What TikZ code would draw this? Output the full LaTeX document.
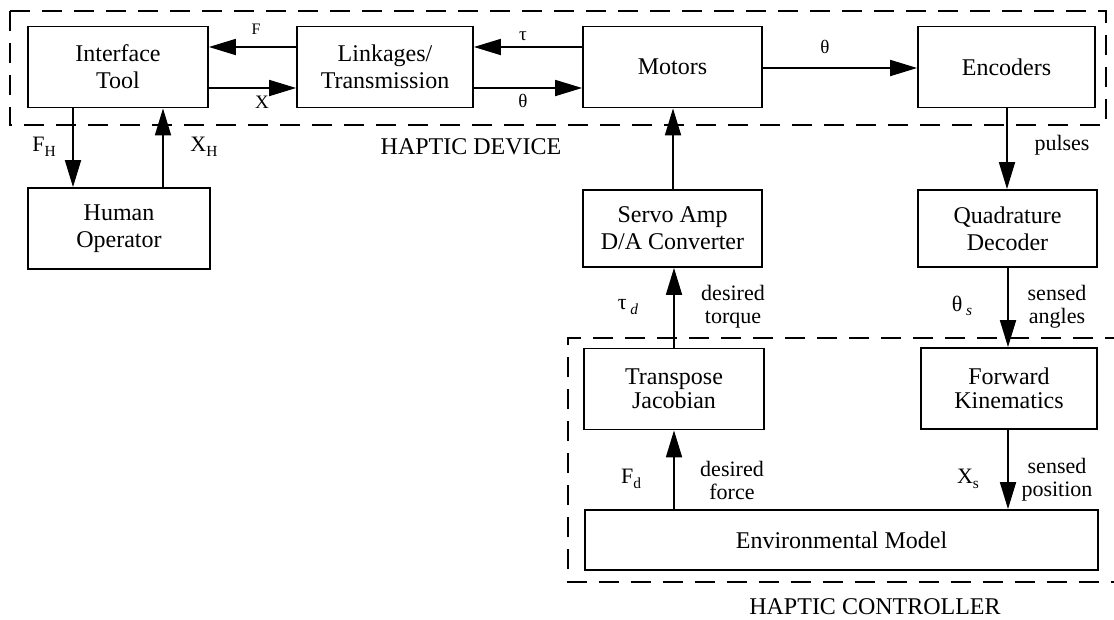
\documentclass[tikz,border=0pt]{standalone}
\usepackage{fontspec}
\setmainfont{Liberation Serif}
\usetikzlibrary{arrows.meta}
% lowered, reduced subscript for text-mode symbols
\newcommand\lowsub[1]{\raisebox{-0.45ex}{\scalebox{0.7}{#1}}}
\begin{document}
\begin{tikzpicture}[x=1pt,y=-1pt,
  blk/.style={draw,line width=1.8pt,minimum width=179pt,minimum height=81pt,
    align=center,inner sep=0pt,font=\fontsize{24}{27}\selectfont},
  arr/.style={line width=1.8pt,-{Triangle[length=27pt,width=16pt]}},
  frame/.style={line width=1.8pt,dash pattern=on 20pt off 12pt},
  sym/.style={inner sep=0pt,font=\fontsize{19}{20}\selectfont},
  sig/.style={inner sep=0pt,font=\fontsize{22}{24}\selectfont},
  lbl/.style={inner sep=0pt,align=center,font=\fontsize{22}{23}\selectfont},
  title/.style={inner sep=0pt,font=\fontsize{24}{26}\selectfont},
  ]
\useasboundingbox (0,0) rectangle (1114,619);

% group frames
\draw[frame] (10,11) rectangle (1106,125);
\draw[frame] (1125,338) -- (568,338) -- (568,582) -- (1125,582);
\node[title] (devlbl) at (471,147) {HAPTIC DEVICE};
\node[title] (ctllbl) at (875,607) {HAPTIC CONTROLLER};

% blocks
\node[blk,minimum width=180pt] (iface) at (118,67) {Interface\\Tool};
\node[blk,minimum width=176pt] (link) at (385,67) {Linkages/\\Transmission};
\node[blk] (motors) at (672.5,67) {Motors};
\node[blk,minimum width=177pt] (enc) at (1006.5,67) {Encoders};
\node[blk,minimum width=182pt] (human) at (119,228.5) {Human\\Operator};
\node[blk,minimum height=77pt] (servo) at (672.5,228.5) {Servo Amp\\D/A Converter};
\node[blk,minimum height=77pt] (quad) at (1007.5,228.5) {Quadrature\\Decoder};
\node[blk,minimum width=180pt,font=\fontsize{24}{24}\selectfont] (trans) at (674,389) {Transpose\\Jacobian};
\node[blk,minimum width=176pt,font=\fontsize{24}{24}\selectfont] (fwd) at (1009,388.5) {Forward\\Kinematics};
\node[blk,minimum width=513pt,minimum height=60pt] (env) at (841.5,540) {Environmental Model};

% haptic device signals
\draw[arr] (link.west |- 0,47) -- (iface.east |- 0,47);
\draw[arr] (iface.east |- 0,88) -- (link.west |- 0,88);
\draw[arr] (motors.west |- 0,47) -- (link.east |- 0,47);
\draw[arr] (link.east |- 0,88) -- (motors.west |- 0,88);
\draw[arr] (motors.east |- 0,68) -- (enc.west |- 0,68);
\node[sym,font=\fontsize{16}{18}\selectfont] (lF) at (256,29) {F};
\node[sym] (lX) at (262,102) {X};
\node[sym] (ltau) at (523,36) {τ};
\node[sym] (lth1) at (523,101) {θ};
\node[sym] (lth2) at (825,47) {θ};

% operator loop
\draw[arr] (iface.south -| 73,0) -- (human.north -| 73,0);
\draw[arr] (human.north -| 163,0) -- (iface.south -| 163,0);
\node[sig] (lFH) at (44,147) {F\lowsub{H}};
\node[sig] (lXH) at (204,147) {X\lowsub{H}};

% controller paths
\draw[arr] (servo.north -| 673,0) -- (motors.south -| 673,0);
\draw[arr] (enc.south -| 1007,0) -- (quad.north -| 1007,0);
\draw[arr] (trans.north -| 674,0) -- (servo.south -| 674,0);
\draw[arr] (quad.south -| 1008,0) -- (fwd.north -| 1008,0);
\draw[arr] (env.north -| 674,0) -- (trans.south -| 674,0);
\draw[arr] (fwd.south -| 1008,0) -- (env.north -| 1008,0);

\node[lbl] (lpul) at (1062,145) {pulses};
\node[sig] (ltd) at (628,307) {τ\,\lowsub{\itshape d}};
\node[lbl] (ldt) at (733,307) {desired\\torque};
\node[sig] (lts) at (962,306) {θ\,\lowsub{\itshape s}};
\node[lbl] (lsa) at (1057,307) {sensed\\angles};
\node[sig] (lFd) at (631,479) {F\lowsub{d}};
\node[lbl] (ldf) at (732,480) {desired\\force};
\node[sig] (lXs) at (968,479) {X\lowsub{s}};
\node[lbl] (lsp) at (1057,480) {sensed\\position};
\end{tikzpicture}
\end{document}
